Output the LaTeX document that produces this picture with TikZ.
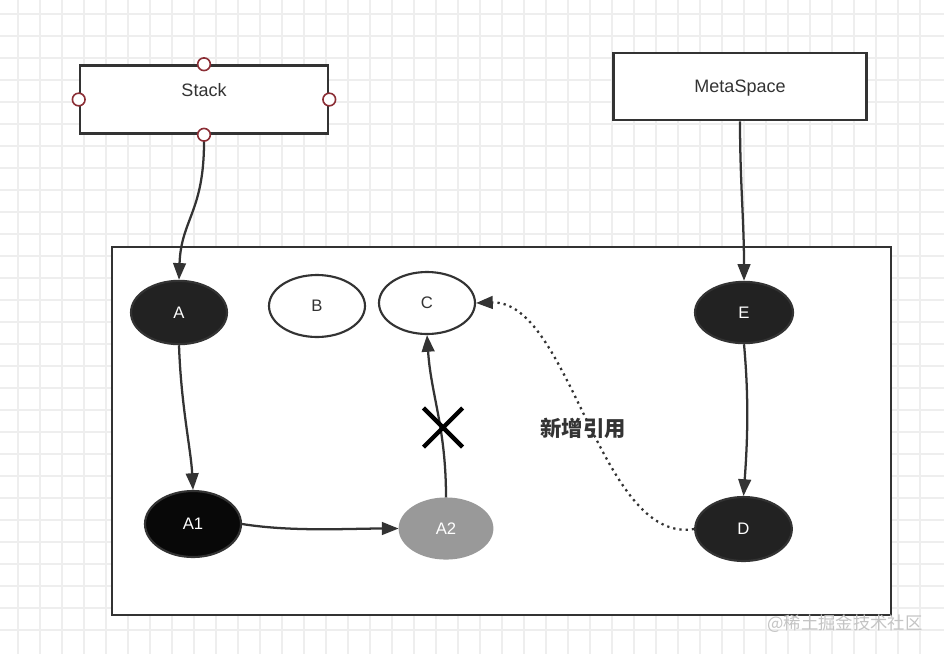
\documentclass[tikz,border=0pt]{standalone}
\usepackage{fontspec}
\setmainfont{Liberation Sans}
\newfontfamily\cjk{Noto Sans CJK SC}
\usetikzlibrary{arrows.meta,shapes.geometric}
\definecolor{gridc}{HTML}{EEEEEE}
\definecolor{linec}{HTML}{333333}
\definecolor{portc}{HTML}{8B2E35}
\definecolor{darkc}{HTML}{222222}
\definecolor{blackc}{HTML}{080808}
\definecolor{grayc}{HTML}{999999}
\definecolor{wmc}{HTML}{C4C4C4}
\begin{document}
\begin{tikzpicture}[x=0.75pt,y=-0.75pt,
  gridline/.style={draw=gridc, line width=0.8pt},
  box/.style={rectangle, draw=linec, line width=1.9pt, fill=white, inner sep=0pt},
  port/.style={circle, draw=portc, line width=1.2pt, fill=white, minimum size=9.5pt, inner sep=0pt},
  obj/.style={ellipse, draw=linec, line width=1.6pt, inner sep=0pt, font=\fontsize{12.5}{14}\selectfont},
  darkobj/.style={obj, fill=darkc, text=white},
  blackobj/.style={obj, fill=blackc, text=white},
  grayobj/.style={obj, draw=grayc, fill=grayc, text=white},
  lightobj/.style={obj, fill=white, text=linec},
  boxtext/.style={text=linec, font=\fontsize{13.5}{15}\selectfont},
  link/.style={draw=linec, line width=1.7pt, -{Triangle[length=12.5pt,width=9.5pt]}},
  newlink/.style={draw=linec, line width=1.7pt, dash pattern=on 1.7pt off 3pt, -{Triangle[length=12.5pt,width=9.5pt]}},
]
\useasboundingbox (0,0) rectangle (944,654);
\fill[white] (0,0) rectangle (944,654);
% background grid
\foreach \gx in {18,40,...,940} \draw[gridline] (\gx,0) -- (\gx,654);
\foreach \gy in {14,36,...,650} \draw[gridline] (0,\gy) -- (944,\gy);

% container
\node[box, minimum width=584.25pt, minimum height=276pt] (heap) at (501.5,431) {};

% Stack
\node[box, minimum width=186pt, minimum height=51pt] (stack) at (204,99.5) {};
\node[boxtext] (stacklbl) at (204,90) {Stack};
\node[port] (pt) at (stack.north) {};
\node[port] (pb) at (stack.south) {};
\node[port] (pl) at (stack.west) {};
\node[port] (pr) at (stack.east) {};

% MetaSpace
\node[box, minimum width=189.75pt, minimum height=50.5pt] (meta) at (740,86.5) {};
\node[boxtext] (metalbl) at (740,88) {MetaSpace};

% objects
\node[darkobj, minimum width=72pt, minimum height=47.5pt] (A) at (179,312.5) {A};
\node[lightobj, minimum width=72pt, minimum height=46.5pt] (B) at (317,306) {B};
\node[lightobj, minimum width=72pt, minimum height=46.5pt] (C) at (427,303) {C};
\node[darkobj, minimum width=73.5pt, minimum height=46pt] (E) at (744,312.5) {E};
\node[blackobj, minimum width=72pt, minimum height=49.5pt] (A1) at (193,524) {A1};
\node[grayobj, minimum width=69.5pt, minimum height=45pt] (A2) at (446,528.5) {A2};
\node[darkobj, minimum width=72.5pt, minimum height=48pt] (D) at (743.5,529) {D};

% connectors
\draw[link] (pb.south) .. controls +(0,70) and +(2,-60) .. (A.north);
\draw[link] (meta.south) .. controls +(0,60) and +(0,-60) .. (E.north);
\draw[link] (A.south) .. controls +(2,60) and +(-2,-40) .. (A1.north);
\draw[link] (A1.east) .. controls +(50,8) and +(-50,0) .. (A2.west);
\draw[link] (A2.north) .. controls +(0,-70) and +(4,60) .. (C.south);
\draw[link] (E.south) .. controls +(5,55) and +(4,-55) .. (D.north);
\draw[newlink] (D.west) .. controls (600,545) and (570,300) .. (C.east);

% cross mark
\node[minimum size=29pt] (X) at (443,427.5) {};
\draw[black, line width=3.2pt] (X.north west) -- (X.south east) (X.north east) -- (X.south west);

% label
\node[text=linec, font=\cjk\bfseries\fontsize{16}{18}\selectfont] (newref) at (583,428) {新增引用};

% watermark
\node[text=wmc, font=\cjk\fontsize{13}{15}\selectfont] (wm) at (845,624) {@稀土掘金技术社区};
\end{tikzpicture}
\end{document}
